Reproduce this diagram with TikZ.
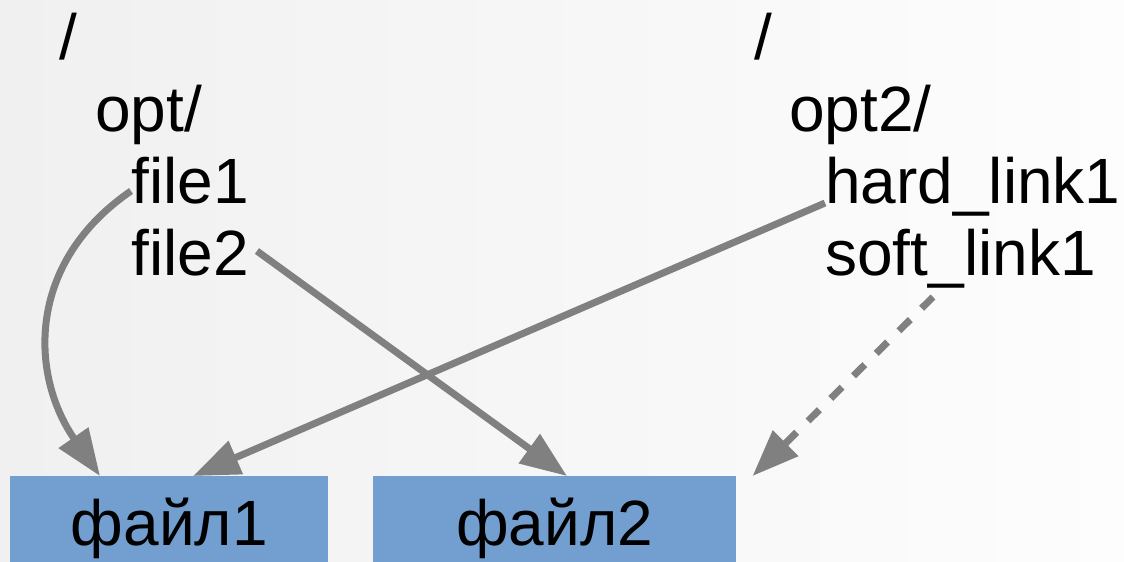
\documentclass[tikz,border=0pt]{standalone}
\usepackage{fontspec}
\setmainfont{Liberation Sans}
\usetikzlibrary{arrows.meta,calc}
\definecolor{boxblue}{RGB}{114,159,207}
\definecolor{linkgray}{RGB}{128,128,128}
\definecolor{bgleft}{RGB}{240,240,240}
\definecolor{bgright}{RGB}{253,253,253}
\begin{document}
\begin{tikzpicture}[x=0.75pt,y=-0.75pt,
  lbl/.style={anchor=base west,inner sep=0pt,font=\fontsize{48}{57}\selectfont},
  filebox/.style={anchor=north west,inner sep=0pt,fill=boxblue,minimum width=#1,text height=51.75pt,text depth=13pt,font=\fontsize{48}{57}\selectfont},
  link/.style={draw=linkgray,line width=5.25pt,-{Triangle[length=35pt,width=26pt]}},
  softlink/.style={link,dash pattern=on 12pt off 12pt}]
\useasboundingbox (0,0) rectangle (1124,561);
\clip (0,0) rectangle (1124,561);
\shade[left color=bgleft,right color=bgright] (0,0) rectangle (1124,561);
\node[lbl] (r1) at (59,59) {/};
\node[lbl] (o1) at (95,131) {opt/};
\node[lbl] (f1) at (131,203) {file1};
\node[lbl] (f2) at (131,275) {file2};
\node[lbl] (r2) at (754,59) {/};
\node[lbl] (o2) at (789,131) {opt2/};
\node[lbl] (h1) at (825,203) {hard\_link1};
\node[lbl] (s1) at (825,275) {soft\_link1};
\node[filebox=238.5pt] (b1) at (10,476) {файл1};
\node[filebox=272.25pt] (b2) at (373,476) {файл2};
\draw[link] ($(f1.base west)+(0,-12)$) .. controls +(-105,72) and +(-70,-101) .. ($(b1.north west)+(90,0)$);
\draw[link] ($(f2.base east)+(8,-24)$) -- ($(b2.north west)+(194,0)$);
\draw[link] ($(h1.base west)+(0,0)$) -- ($(b1.north west)+(183,0)$);
\draw[softlink] ($(s1.base west)+(108,22)$) -- ($(b2.north east)+(16,0)$);
\end{tikzpicture}
\end{document}
